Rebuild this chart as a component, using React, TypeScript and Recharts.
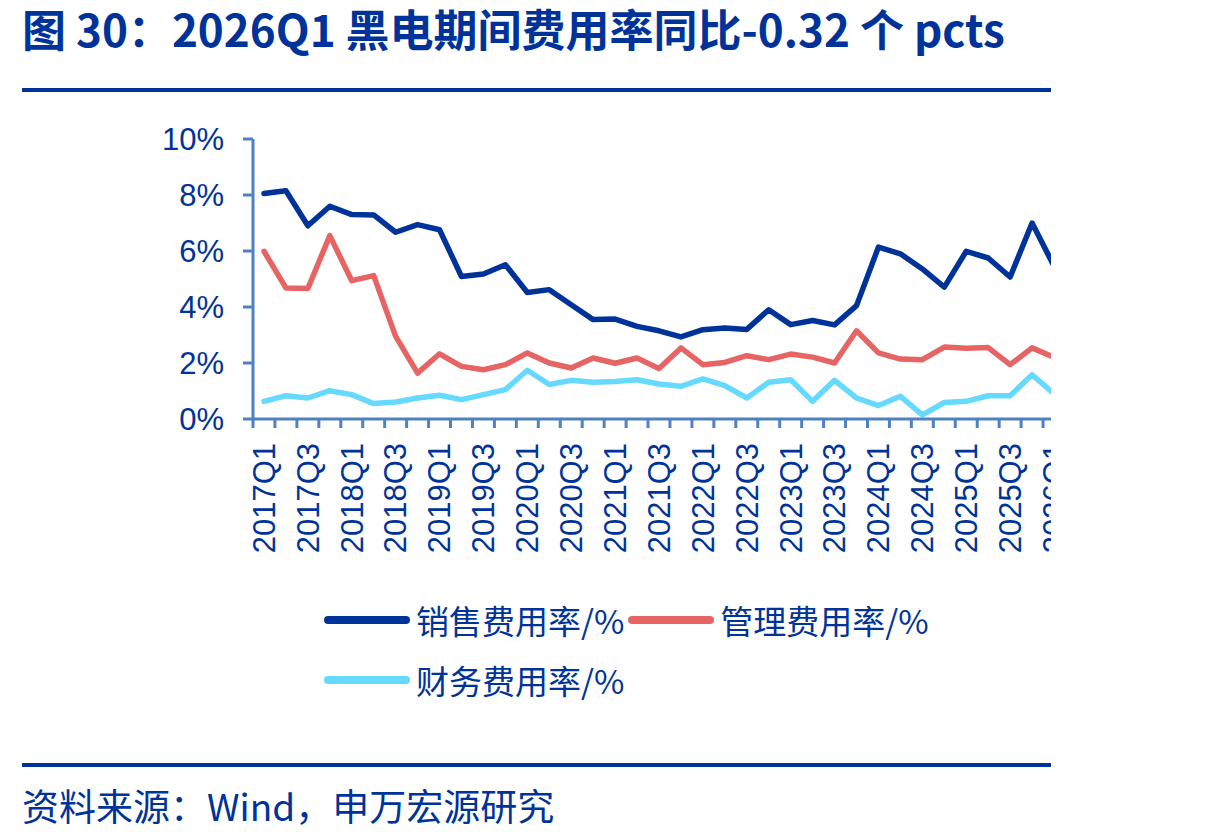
import { LineChart, Line, XAxis, YAxis } from 'recharts'

const quarters = [
  '2017Q1', '2017Q2', '2017Q3', '2017Q4', '2018Q1', '2018Q2', '2018Q3', '2018Q4',
  '2019Q1', '2019Q2', '2019Q3', '2019Q4', '2020Q1', '2020Q2', '2020Q3', '2020Q4',
  '2021Q1', '2021Q2', '2021Q3', '2021Q4', '2022Q1', '2022Q2', '2022Q3', '2022Q4',
  '2023Q1', '2023Q2', '2023Q3', '2023Q4', '2024Q1', '2024Q2', '2024Q3', '2024Q4',
  '2025Q1', '2025Q2', '2025Q3', '2025Q4', '2026Q1',
]

// 销售费用率 (%)
const salesRate = [
  8.05, 8.15, 6.9, 7.6, 7.3, 7.29, 6.67, 6.94, 6.76, 5.09,
  5.18, 5.51, 4.52, 4.62, 4.08, 3.55, 3.57, 3.31, 3.15, 2.93,
  3.19, 3.25, 3.2, 3.9, 3.37, 3.52, 3.36, 4.05, 6.14, 5.9,
  5.36, 4.71, 5.99, 5.75, 5.07, 7.0, 5.46,
]

// 管理费用率 (%)
const adminRate = [
  5.99, 4.68, 4.66, 6.55, 4.94, 5.12, 2.95, 1.64, 2.33, 1.88,
  1.76, 1.94, 2.36, 2.0, 1.82, 2.18, 1.99, 2.18, 1.8, 2.54,
  1.94, 2.02, 2.26, 2.12, 2.32, 2.21, 2.0, 3.15, 2.36, 2.14,
  2.12, 2.57, 2.53, 2.55, 1.94, 2.54, 2.2,
]

// 财务费用率 (%)
const financeRate = [
  0.63, 0.83, 0.75, 1.01, 0.87, 0.55, 0.61, 0.75, 0.85, 0.69,
  0.87, 1.05, 1.74, 1.23, 1.38, 1.31, 1.34, 1.4, 1.25, 1.17,
  1.43, 1.19, 0.75, 1.31, 1.4, 0.63, 1.38, 0.75, 0.48, 0.81,
  0.15, 0.59, 0.63, 0.83, 0.83, 1.58, 0.9,
]

const yTicks = [0, 2, 4, 6, 8, 10]

const series = [
  { key: 'sales', name: '销售费用率/%', color: '#003399' },
  { key: 'admin', name: '管理费用率/%', color: '#E66464' },
  { key: 'finance', name: '财务费用率/%', color: '#66D9FF' },
]

const data = quarters.map((q, i) => ({
  q,
  sales: salesRate[i],
  admin: adminRate[i],
  finance: financeRate[i],
}))

const NAVY = '#003399'
const AXIS = '#4F81C0'
const CJK = '"Noto Sans CJK SC", "Noto Sans", sans-serif'
const LATIN = '"Liberation Sans", Arial, sans-serif'

const CHART_W = 1080
const PLOT_LEFT = 253
const PLOT_RIGHT_PAD = 15
const BAND = (CHART_W - PLOT_LEFT - PLOT_RIGHT_PAD) / quarters.length

// category ticks sit on band boundaries, labels on every other band centre
function QuarterTick(props: any) {
  const { x, y, payload } = props
  const idx = payload.index
  const left = x - BAND / 2
  return (
    <g>
      <line x1={left} y1={y} x2={left} y2={y + 9} stroke={AXIS} strokeWidth={3} />
      {idx % 2 === 0 && (
        <text
          x={x}
          y={y + 24}
          transform={`rotate(-90, ${x}, ${y + 24})`}
          textAnchor="end"
          dy="0.35em"
          fill={NAVY}
          fontSize={31}
          fontFamily={LATIN}
        >
          {payload.value}
        </text>
      )}
    </g>
  )
}

function LegendRow({ items, top }: { items: typeof series; top: number }) {
  return (
    <div style={{ position: 'absolute', left: 324, top, display: 'flex', alignItems: 'center', height: 40 }}>
      {items.map((s) => (
        <div key={s.key} style={{ display: 'flex', alignItems: 'center', marginRight: 4 }}>
          <div style={{ width: 86, height: 8, borderRadius: 4, background: s.color }} />
          <span style={{ marginLeft: 6, fontFamily: CJK, fontSize: 33, color: NAVY, lineHeight: '40px' }}>
            {s.name}
          </span>
        </div>
      ))}
    </div>
  )
}

export default function App() {
  return (
    <div style={{ position: 'absolute', left: 0, top: 0, width: 1221, height: 840, background: '#fff' }}>
      <div
        style={{
          position: 'absolute', left: 22, top: 4, fontFamily: CJK, fontWeight: 700,
          fontSize: 44, lineHeight: '48px', color: NAVY, whiteSpace: 'nowrap',
        }}
      >
        图 30：2026Q1 黑电期间费用率同比-0.32 个 pcts
      </div>
      <div style={{ position: 'absolute', left: 22, top: 88, width: 1029, height: 4, background: NAVY }} />

      <div style={{ position: 'absolute', left: 0, top: 0, width: 1051, height: 580, overflow: 'hidden' }}>
        <LineChart
          width={CHART_W}
          height={570}
          data={data}
          margin={{ top: 139, right: PLOT_RIGHT_PAD, left: 0, bottom: 0 }}
        >
          <XAxis
            dataKey="q"
            interval={0}
            height={151}
            padding={{ left: BAND / 2, right: BAND / 2 }}
            axisLine={{ stroke: AXIS, strokeWidth: 3 }}
            tickLine={false}
            tickSize={0}
            tickMargin={0}
            tick={<QuarterTick />}
          />
          <YAxis
            width={PLOT_LEFT}
            domain={[0, 10]}
            ticks={yTicks}
            tickFormatter={(v) => `${v}%`}
            axisLine={{ stroke: AXIS, strokeWidth: 3 }}
            tickLine={{ stroke: AXIS, strokeWidth: 3 }}
            tickSize={10}
            tickMargin={19}
            tick={{ fill: NAVY, fontSize: 31, fontFamily: LATIN }}
          />
          {series.map((s) => (
            <Line
              key={s.key}
              type="linear"
              dataKey={s.key}
              name={s.name}
              stroke={s.color}
              strokeWidth={5.5}
              strokeLinecap="round"
              strokeLinejoin="round"
              dot={false}
              activeDot={false}
              isAnimationActive={false}
            />
          ))}
        </LineChart>
      </div>

      <LegendRow items={series.slice(0, 2)} top={600} />
      <LegendRow items={series.slice(2)} top={660} />

      <div style={{ position: 'absolute', left: 22, top: 763, width: 1029, height: 4, background: NAVY }} />
      <div
        style={{
          position: 'absolute', left: 22, top: 783, fontFamily: CJK, fontSize: 37,
          lineHeight: '44px', color: NAVY, whiteSpace: 'nowrap',
        }}
      >
        资料来源：Wind，申万宏源研究
      </div>
    </div>
  )
}
